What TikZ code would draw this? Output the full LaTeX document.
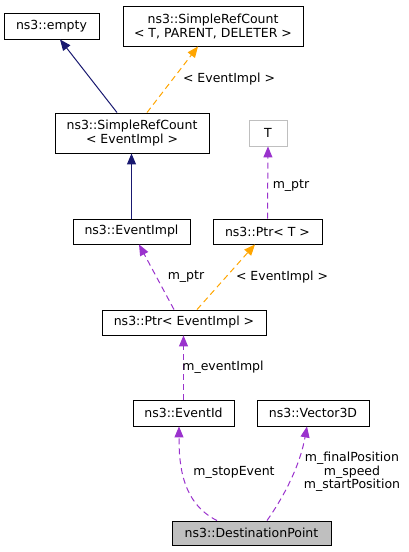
\documentclass[tikz,border=0pt]{standalone}
\usepackage{fontspec}
\setmainfont{DejaVu Sans}
\usetikzlibrary{arrows.meta}
\definecolor{inhblue}{HTML}{191970}
\definecolor{tmplorange}{HTML}{FFA500}
\definecolor{usepurple}{HTML}{9A32CD}
\definecolor{boxgray}{HTML}{BFBFBF}
\begin{document}
\begin{tikzpicture}[x=1pt,y=1pt,font=\fontsize{12.5}{14}\selectfont]
\tikzset{classbox/.style={draw=black,line width=0.9pt,inner sep=0pt,align=center},
  inherit/.style={draw=inhblue,line width=1pt,-{Triangle[length=11pt,width=9pt]}},
  tmpl/.style={draw=tmplorange,line width=1pt,dash pattern=on 6pt off 4pt,-{Triangle[length=11pt,width=9pt,fill=tmplorange]}},
  member/.style={draw=usepurple,line width=1pt,dash pattern=on 6pt off 4pt,-{Triangle[length=11pt,width=9pt,fill=usepurple]}},
  edgelabel/.style={inner sep=0pt,align=center,font=\fontsize{12.5}{13.5}\selectfont}}
\useasboundingbox (0,0) rectangle (409,-552);
% boxes
\node [classbox,minimum width=95,minimum height=26] (empty) at (51.5,-26) {ns3::empty};
\node [classbox,minimum width=180,minimum height=40] (srctpd) at (213,-26) {ns3::SimpleRefCount\\< T, PARENT, DELETER >};
\node [classbox,minimum width=154,minimum height=40] (srcev) at (132,-133) {ns3::SimpleRefCount\\< EventImpl >};
\node [classbox,draw=boxgray,minimum width=38,minimum height=26] (tparam) at (268,-133) {T};
\node [classbox,minimum width=117,minimum height=25] (evimpl) at (131.5,-231.5) {ns3::EventImpl};
\node [classbox,minimum width=109,minimum height=25] (ptrt) at (267.5,-231.5) {ns3::Ptr< T >};
\node [classbox,minimum width=164,minimum height=25] (ptrev) at (184,-322.5) {ns3::Ptr< EventImpl >};
\node [classbox,minimum width=101,minimum height=26] (evid) at (183.5,-413) {ns3::EventId};
\node [classbox,minimum width=112,minimum height=26] (vec) at (313,-413) {ns3::Vector3D};
\node [classbox,fill=boxgray,minimum width=159,minimum height=24] (dest) at (251.5,-533) {ns3::DestinationPoint};
% edges
\draw [inherit] ([xshift=-15pt]srcev.north) -- ([xshift=8.5pt]empty.south);
\draw [tmpl] ([xshift=15pt]srcev.north) -- ([xshift=-15pt]srctpd.south);
\node [edgelabel] (lbtpd) at (229,-79) {< EventImpl >};
\draw [inherit] (evimpl.north) -- (evimpl.north |- srcev.south);
\draw [member] (ptrt.north) -- (tparam.south);
\node [edgelabel] (lbptrt) at (291,-186) {m\_ptr};
\draw [member] ([xshift=-10pt]ptrev.north) -- ([xshift=7.5pt]evimpl.south);
\node [edgelabel] (lbptrev) at (186,-277) {m\_ptr};
\draw [tmpl] ([xshift=13pt]ptrev.north) -- ([xshift=-12.5pt]ptrt.south);
\node [edgelabel] (lbptrtev) at (282,-277) {< EventImpl >};
\draw [member] (evid.north) -- (evid.north |- ptrev.south);
\node [edgelabel] (lbevid) at (223,-367) {m\_eventImpl};
\draw [member] ([xshift=-34.5pt]dest.north) .. controls (182,-503) and (179,-465) .. ([xshift=-4.5pt]evid.south);
\node [edgelabel] (lbstop) at (234,-472) {m\_stopEvent};
\draw [member] ([xshift=15.5pt]dest.north) .. controls (285,-495) and (300,-465) .. ([xshift=-6pt]vec.south);
\node [edgelabel] (lbvec) at (352,-472) {m\_finalPosition\\m\_speed\\m\_startPosition};
\end{tikzpicture}
\end{document}
